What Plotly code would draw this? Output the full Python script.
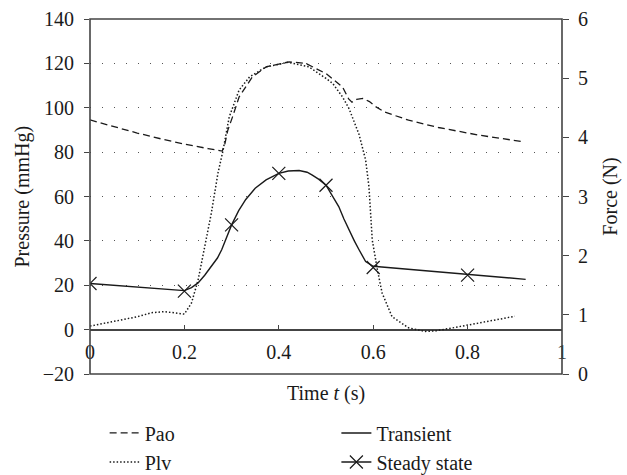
import plotly.graph_objects as go

# ---- data ----
t_pao = [0, 0.05, 0.1, 0.15, 0.2, 0.25, 0.28, 0.285, 0.292, 0.302, 0.316, 0.344, 0.373, 0.422,
         0.457, 0.5, 0.535, 0.548, 0.555, 0.565, 0.578, 0.592, 0.605, 0.625, 0.675, 0.738, 0.823, 0.92]
p_pao = [94.5, 91.4, 88.6, 86.0, 83.6, 81.6, 80.5, 83.0, 89.9, 95.9, 104.9, 113.9, 118.4, 120.7,
         120.0, 115.4, 109.4, 104.0, 102.5, 103.8, 104.2, 102.8, 100.5, 98.0, 94.4, 91.1, 87.7, 84.6]

t_plv = [0, 0.06, 0.1, 0.13, 0.158, 0.2, 0.208, 0.215, 0.229, 0.243, 0.257, 0.271, 0.282, 0.295,
         0.316, 0.338, 0.373, 0.42, 0.464, 0.5, 0.514, 0.535, 0.549, 0.57, 0.584, 0.591, 0.594,
         0.598, 0.609, 0.619, 0.64, 0.675, 0.71, 0.731, 0.774, 0.837, 0.9]
p_plv = [1.6, 4.3, 5.8, 7.6, 8.1, 7.0, 9.5, 12.0, 22.3, 37.3, 52.4, 70.4, 80.9, 95.9,
         108.0, 113.9, 118.4, 120.5, 118.4, 113.2, 111.0, 104.9, 99.5, 88.0, 76.4, 64.4, 52.4,
         40.4, 26.8, 16.4, 5.8, 0.8, -0.8, -0.6, 1.0, 3.6, 6.0]

t_tr = [0, 0.1, 0.2, 0.215, 0.229, 0.243, 0.257, 0.27, 0.279, 0.285, 0.3, 0.315, 0.33, 0.35,
        0.373, 0.4, 0.42, 0.443, 0.46, 0.471, 0.485, 0.5, 0.513, 0.527, 0.538, 0.549, 0.56,
        0.57, 0.584, 0.6, 0.923]
f_tr = [1.53, 1.47, 1.41, 1.46, 1.54, 1.67, 1.81, 1.96, 2.10, 2.22, 2.52, 2.76, 2.95, 3.14,
        3.28, 3.39, 3.43, 3.44, 3.41, 3.36, 3.29, 3.19, 3.02, 2.83, 2.62, 2.43, 2.25,
        2.10, 1.90, 1.82, 1.60]

t_ss = [0, 0.2, 0.3, 0.4, 0.5, 0.6, 0.8]
f_ss = [1.53, 1.40, 2.52, 3.39, 3.19, 1.80, 1.67]

x_ticks = [0, 0.2, 0.4, 0.6, 0.8, 1]
x_ticktext = ["0", "0.2", "0.4", "0.6", "0.8", "1"]
p_ticks = [-20, 0, 20, 40, 60, 80, 100, 120, 140]
f_ticks = [0, 1, 2, 3, 4, 5, 6]

FONT = "Liberation Serif"
INK = "#1a1a1a"
AX = "#444444"
FS = 20

fig = go.Figure()
fig.add_trace(go.Scatter(x=t_pao, y=p_pao, mode="lines", name="Pao",
                         line=dict(color=INK, width=1.3, dash="7px,4px"), legend="legend"))
fig.add_trace(go.Scatter(x=t_plv, y=p_plv, mode="lines", name="Plv",
                         line=dict(color=INK, width=1.5, dash="1.5px,2px"), legend="legend2"))
fig.add_trace(go.Scatter(x=t_tr, y=f_tr, mode="lines", name="Transient", yaxis="y2",
                         line=dict(color=INK, width=1.4), legend="legend3"))
fig.add_trace(go.Scatter(x=t_ss, y=f_ss, mode="markers", name="Steady state", yaxis="y2",
                         marker=dict(symbol="x-thin", size=13, line=dict(color=INK, width=1.2)),
                         showlegend=False))
fig.add_trace(go.Scatter(x=[None], y=[None], mode="lines+markers", name="Steady state", yaxis="y2",
                         line=dict(color=INK, width=1.4),
                         marker=dict(symbol="x-thin", size=13, line=dict(color=INK, width=1.2)),
                         legend="legend4"))

leg = dict(font=dict(family=FONT, size=FS, color=INK), bgcolor="rgba(0,0,0,0)",
           xanchor="left", yanchor="middle")

fig.update_layout(
    width=627, height=475,
    margin=dict(l=90, r=65, t=19, b=101, autoexpand=False),
    plot_bgcolor="white", paper_bgcolor="white",
    font=dict(family=FONT, size=FS, color=INK),
    xaxis=dict(range=[0, 1], tickvals=x_ticks, ticktext=x_ticktext,
               anchor="free", position=20 / 160, showline=False,
               ticks="inside", ticklen=5, tickcolor=AX, tickwidth=1.3,
               showgrid=False, zeroline=False, ticklabelstandoff=8, automargin=False),
    yaxis=dict(range=[-20, 140], tickvals=p_ticks, ticks="outside", ticklen=5,
               tickcolor=AX, tickwidth=1.3, showline=False, automargin=False,
               showgrid=True, gridcolor="#555555", gridwidth=1, griddash="1px,11px",
               zeroline=True, zerolinecolor=AX, zerolinewidth=1.6, ticklabelstandoff=6),
    yaxis2=dict(range=[0, 6], tickvals=f_ticks, overlaying="y", side="right",
                ticks="outside", ticklen=6, tickcolor=AX, tickwidth=1.3, automargin=False,
                showgrid=False, zeroline=False, showline=False, ticklabelstandoff=5),
    legend=dict(x=0.031, y=-0.166, **leg),
    legend2=dict(x=0.031, y=-0.248, **leg),
    legend3=dict(x=0.522, y=-0.166, **leg),
    legend4=dict(x=0.522, y=-0.248, **leg),
    shapes=[dict(type="rect", xref="paper", yref="paper", x0=0, x1=1, y0=0, y1=1,
                 line=dict(color=AX, width=1.6), fillcolor="rgba(0,0,0,0)", layer="above")],
    annotations=[
        dict(text="Time <i>t</i> (s)", xref="paper", yref="paper", x=0.5, y=-0.054,
             showarrow=False, xanchor="center", yanchor="middle"),
        dict(text="Pressure (mmHg)", xref="paper", yref="paper", x=-0.144, y=0.5,
             textangle=-90, showarrow=False, xanchor="center", yanchor="middle"),
        dict(text="Force (N)", xref="paper", yref="paper", x=1.102, y=0.5,
             textangle=-90, showarrow=False, xanchor="center", yanchor="middle"),
    ],
)

fig.write_html("out.html", config={"displayModeBar": False},
               post_script="document.body.style.margin='0';")
